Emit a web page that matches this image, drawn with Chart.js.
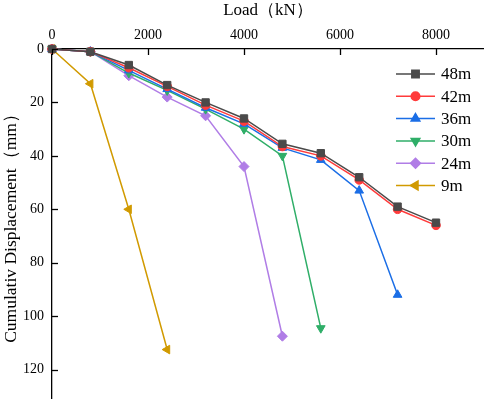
<!DOCTYPE html>
<html>
<head>
<meta charset="utf-8">
<script src="https://cdn.jsdelivr.net/npm/chart.js@4/dist/chart.umd.min.js"></script>
<style>
html,body{margin:0;padding:0;background:#fff;}
#wrap{width:484px;height:399px;position:relative;}
</style>
</head>
<body>
<div id="wrap"><canvas id="c" width="484" height="399"></canvas></div>
<script>
const loads = [0, 800, 1600, 2400, 3200, 4000, 4800, 5600, 6400, 7200, 8000];
const seriesNames = ['48m', '42m', '36m', '30m', '24m', '9m'];
const d48 = [0, 1, 6, 13.5, 20, 26, 35.5, 39, 48, 59, 65];
const d42 = [0, 1, 7, 14, 21, 27, 36.5, 40, 49, 60, 66];
const d36 = [0, 1, 8, 15, 22, 28, 37, 41.5, 53, 92];
const d30 = [0, 1, 9, 15.5, 22.5, 30, 40, 104.5];
const d24 = [0, 1, 10, 18, 25, 44, 107.5];
const d9 = [0, 13, 60, 112.5];
const xTickValues = [0, 2000, 4000, 6000, 8000];
const yTickValues = [0, 20, 40, 60, 80, 100, 120];
const xTitle = 'Load（kN）';
const yTitle = 'Cumulativ Displacement（mm）';

const FONT = "'Liberation Serif', 'Times New Roman', serif";
const styles = [
  {color: '#4a4a4a', pointStyle: 'rect', radius: 5.2, rotation: 0},
  {color: '#ff3b3b', pointStyle: 'circle', radius: 4.3, rotation: 0},
  {color: '#1b6ee6', pointStyle: 'triangle', radius: 5, rotation: 0},
  {color: '#2fae68', pointStyle: 'triangle', radius: 5, rotation: 180},
  {color: '#b07de6', pointStyle: 'rectRot', radius: 5, rotation: 0},
  {color: '#d19a00', pointStyle: 'triangle', radius: 5, rotation: -90}
];
const allSeries = [d48, d42, d36, d30, d24, d9];

const datasets = allSeries.map((vals, i) => ({
  label: seriesNames[i],
  data: vals.map((v, j) => ({x: loads[j], y: v})),
  borderColor: styles[i].color,
  backgroundColor: styles[i].color,
  pointBackgroundColor: styles[i].color,
  pointBorderColor: styles[i].color,
  pointStyle: styles[i].pointStyle,
  pointRadius: styles[i].radius,
  pointRotation: styles[i].rotation,
  borderWidth: 1.5,
  pointBorderWidth: 1,
  tension: 0,
  clip: false
}));

const inwardTicks = {
  id: 'inwardTicks',
  afterDraw(chart) {
    const ctx = chart.ctx;
    const xs = chart.scales.x, ys = chart.scales.y;
    const area = chart.chartArea;
    ctx.save();
    ctx.strokeStyle = '#000';
    ctx.lineWidth = 1.3;
    xs.ticks.forEach(t => {
      const px = Math.round(xs.getPixelForValue(t.value)) + 0.5;
      ctx.beginPath(); ctx.moveTo(px, area.top); ctx.lineTo(px, area.top + 6); ctx.stroke();
    });
    ys.ticks.forEach(t => {
      const py = Math.round(ys.getPixelForValue(t.value)) + 0.5;
      ctx.beginPath(); ctx.moveTo(area.left, py); ctx.lineTo(area.left + 6, py); ctx.stroke();
    });
    ctx.restore();
  }
};

const customLegend = {
  id: 'customLegend',
  afterDraw(chart) {
    const ctx = chart.ctx;
    ctx.save();
    chart.data.datasets.forEach((ds, i) => {
      const y = 74 + i * 22.3;
      ctx.strokeStyle = ds.borderColor;
      ctx.lineWidth = 1.5;
      ctx.beginPath(); ctx.moveTo(396, y); ctx.lineTo(435, y); ctx.stroke();
      ctx.fillStyle = ds.pointBackgroundColor;
      if (Chart.helpers && Chart.helpers.drawPoint) {
        Chart.helpers.drawPoint(ctx, {pointStyle: ds.pointStyle, rotation: ds.pointRotation, radius: ds.pointRadius, borderWidth: 1}, 415.5, y);
      }
      ctx.fillStyle = '#000';
      ctx.font = '17px ' + FONT;
      ctx.textBaseline = 'middle';
      ctx.textAlign = 'left';
      ctx.fillText(ds.label, 441, y + 1);
    });
    ctx.restore();
  }
};

function zeroPad(s) { s.paddingTop = 0; s.paddingBottom = 0; s.paddingLeft = 0; s.paddingRight = 0; }

new Chart(document.getElementById('c'), {
  type: 'line',
  data: {datasets},
  options: {
    responsive: false,
    animation: false,
    devicePixelRatio: 1,
    layout: {padding: 0, autoPadding: false},
    plugins: {legend: {display: false}, tooltip: {enabled: false}},
    scales: {
      x: {
        type: 'linear',
        position: 'top',
        min: 0, max: 9000,
        afterBuildTicks(s) { s.ticks = xTickValues.map(v => ({value: v})); },
        afterFit(s) { s.height = 49; zeroPad(s); },
        grid: {display: false, drawTicks: false},
        border: {display: true, color: '#000', width: 1.3},
        ticks: {color: '#000', padding: 5, font: {family: FONT, size: 14}, callback: v => String(v)},
        title: {display: true, text: xTitle, color: '#000', font: {family: FONT, size: 17}, padding: {top: 0, bottom: 4}}
      },
      y: {
        type: 'linear',
        reverse: true,
        min: 0, max: 131,
        afterBuildTicks(s) { s.ticks = yTickValues.map(v => ({value: v})); },
        afterFit(s) { s.width = 52; zeroPad(s); },
        grid: {display: false, drawTicks: false},
        border: {display: true, color: '#000', width: 1.3},
        ticks: {color: '#000', padding: 8, font: {family: FONT, size: 14}, callback: v => String(v)},
        title: {display: true, text: yTitle, color: '#000', font: {family: FONT, size: 17.5}, padding: {top: 1, bottom: 2}}
      }
    }
  },
  plugins: [inwardTicks, customLegend]
});
</script>
</body>
</html>
